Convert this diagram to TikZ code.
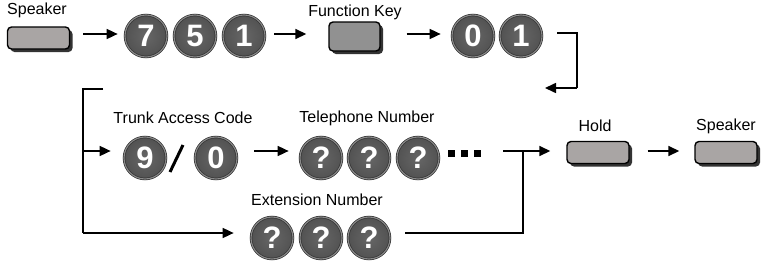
\documentclass[tikz,border=0pt]{standalone}
\usepackage{fontspec}
\setmainfont{Liberation Sans}
\usetikzlibrary{arrows.meta,calc,shadows}
\definecolor{keygrey}{HTML}{A9A5A4}
\definecolor{fkgrey}{HTML}{919191}
\definecolor{balldark}{HTML}{525252}
\definecolor{balllight}{HTML}{666666}
\definecolor{ballrim}{HTML}{8A8A8A}
\tikzset{
  lbl/.style={font=\fontsize{16}{18}\selectfont, inner sep=0pt},
  keybtn/.style={draw=black, line width=1.4pt, fill=keygrey, rounded corners=4pt,
     minimum width=62pt, minimum height=22pt, inner sep=0pt,
     drop shadow={shadow xshift=3pt, shadow yshift=-3pt, opacity=1, fill=black!80}},
  fkbtn/.style={keybtn, fill=fkgrey, minimum width=51pt, minimum height=29pt},
  ball/.style={circle, draw=black!80, line width=0.7pt, double=ballrim, double distance=1.1pt,
     inner color=balllight, outer color=balldark,
     minimum size=42pt, inner sep=0pt, text=white,
     font=\fontsize{31}{31}\selectfont\bfseries},
  arr/.style={line width=1.6pt, -{Triangle[length=11pt,width=10pt]}},
  ln/.style={line width=1.6pt},
  dotsq/.style={fill=black, minimum size=7pt, inner sep=0pt}
}
\begin{document}
\begin{tikzpicture}[x=1pt,y=-1pt]
\useasboundingbox (0,0) rectangle (766,260);
% row 1
\node[lbl] (lspk1) at (37,10) {Speaker};
\node[keybtn] (spk1) at (38.5,38) {};
\node[ball] (c7) at (146,36) {7};
\node[ball] (c5) at (195,36) {5};
\node[ball] (c1) at (244,36) {1};
\node[lbl] (lfk) at (355,12) {Function Key};
\node[fkbtn] (fk) at (354.5,36.5) {};
\node[ball] (c0) at (473,36) {0};
\node[ball] (c1b) at (521,36) {1};
\coordinate (r1) at (0,34);
\draw[arr] ($(spk1.east |- r1)+(13,0)$) -- ($(c7.west |- r1)+(-7,0)$);
\draw[arr] ($(c1.east |- r1)+(9,0)$) -- ($(fk.west |- r1)+(-22,0)$);
\draw[arr] ($(fk.east |- r1)+(26,0)$) -- ($(c0.west |- r1)+(-11,0)$);
\coordinate (br1) at (557,33);
\coordinate (br2) at (577,33);
\coordinate (br3) at (577,88);
\coordinate (br4) at (545,88);
\draw[ln] (br1) -- (br2) -- (br3);
\draw[arr] (br3) -- (br4);
% row 2
\node[lbl] (ltac) at (183,118) {Trunk Access Code};
\node[ball] (c9) at (145,158) {9};
\node[ball] (c0b) at (216,158) {0};
\coordinate (sl1) at (170,172);
\coordinate (sl2) at (183,145);
\draw[line width=3pt] (sl1) -- (sl2);
\node[lbl] (ltel) at (367,118) {Telephone Number};
\node[ball] (q1) at (321,158) {?};
\node[ball] (q2) at (369,158) {?};
\node[ball] (q3) at (418,158) {?};
\node[dotsq] (d1) at (451,153.5) {};
\node[dotsq] (d2) at (464,153.5) {};
\node[dotsq] (d3) at (477,153.5) {};
\coordinate (r2) at (0,151);
\draw[arr] ($(c0b.east |- r2)+(17,0)$) -- ($(q1.west |- r2)+(-11,0)$);
% left bracket
\coordinate (lb1) at (103,89);
\coordinate (lb2) at (83,89);
\coordinate (lb3) at (83,233);
\coordinate (lbm) at (83,151);
\draw[ln] (lb1) -- (lb2) -- (lb3);
\draw[arr] (lbm) -- ($(c9.west |- r2)+(-13,0)$);
% row 3
\node[lbl] (lext) at (317,200) {Extension Number};
\node[ball] (e1) at (272,238) {?};
\node[ball] (e2) at (321,238) {?};
\node[ball] (e3) at (369,238) {?};
\draw[arr] (lb3) -- ($(e1.west |- lb3)+(-17,0)$);
% merge
\coordinate (m1) at (405,233);
\coordinate (m2) at (523,233);
\coordinate (m3) at (523,151);
\coordinate (m4) at (503,151);
\draw[ln] (m1) -- (m2) -- (m3);
% hold / speaker
\node[lbl] (lhold) at (595,126) {Hold};
\node[keybtn] (hold) at (598,152.5) {};
\node[lbl] (lspk2) at (726,126) {Speaker};
\node[keybtn] (spk2) at (726,152.5) {};
\draw[arr] (m4) -- ($(hold.west |- m4)+(-16,0)$);
\draw[arr] ($(hold.east |- m4)+(18,0)$) -- ($(spk2.west |- m4)+(-15,0)$);
\end{tikzpicture}
\end{document}
